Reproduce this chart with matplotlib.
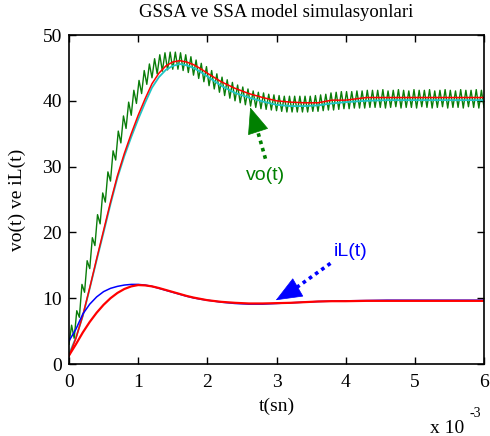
import numpy as np
import matplotlib
matplotlib.use("Agg")
import matplotlib.pyplot as plt

# zaman (ms) - duzgun egriler icin
t_ms = [0, 0.1, 0.2, 0.3, 0.4, 0.5, 0.6, 0.7, 0.8, 0.9, 1.0, 1.1, 1.2, 1.3, 1.4,
        1.5, 1.6, 1.7, 1.8, 1.9, 2.0, 2.2, 2.4, 2.6, 2.8, 3.0, 3.2, 3.4, 3.6,
        3.8, 4.0, 4.3, 4.6, 5.0, 5.5, 6.0]

# vo(t) - GSSA (cyan) ve SSA (kirmizi)
vo_gssa = [1.5, 4.0, 7.3, 11.5, 15.8, 20.0, 24.3, 28.3, 31.6, 34.5, 37.2, 39.7,
           42.0, 43.6, 44.7, 45.3, 45.6, 45.4, 45.0, 44.4, 43.7, 42.3, 41.2,
           40.5, 39.9, 39.4, 39.2, 39.2, 39.3, 39.6, 39.8, 40.0, 40.1, 40.1,
           40.1, 40.1]
vo_ssa = [1.2, 3.9, 7.4, 11.6, 16.0, 20.3, 24.6, 28.6, 32.0, 35.0, 37.8, 40.3,
          42.6, 44.2, 45.3, 45.9, 46.1, 45.9, 45.5, 44.9, 44.2, 42.9, 41.9,
          41.1, 40.5, 40.0, 39.8, 39.7, 39.7, 40.1, 40.1, 40.5, 40.5, 40.5,
          40.5, 40.5]

# iL(t) - GSSA (mavi) ve SSA (kirmizi)
il_gssa = [3.5, 5.3, 7.6, 9.1, 10.2, 11.0, 11.5, 11.8, 12.0, 12.1, 12.1, 12.0,
           11.8, 11.5, 11.2, 10.9, 10.6, 10.3, 10.05, 9.85, 9.7, 9.4, 9.2, 9.1,
           9.1, 9.2, 9.3, 9.4, 9.5, 9.55, 9.6, 9.65, 9.7, 9.7, 9.7, 9.7]
il_ssa = [1.3, 3.0, 4.8, 6.4, 7.8, 9.0, 10.0, 10.8, 11.4, 11.8, 12.0, 11.95,
          11.8, 11.55, 11.25, 10.95, 10.65, 10.35, 10.1, 9.9, 9.7, 9.45, 9.3,
          9.2, 9.2, 9.25, 9.3, 9.4, 9.5, 9.55, 9.55, 9.6, 9.6, 9.6, 9.6, 9.6]

# anahtarlamali model vo(t): dalgalanma tepe / cukur degerleri
vo_switch = [3.0, 5.9, 3.9, 8.1, 7.1, 12.1, 10.9, 15.7, 14.5, 19.2,
             18.0, 22.7, 21.3, 26.0, 24.6, 29.2, 27.8, 32.4, 31.0, 35.4,
             33.6, 37.7, 35.8, 39.8, 37.8, 41.6, 39.6, 43.1, 41.1, 44.6,
             42.5, 45.6, 43.5, 46.4, 44.1, 47.0, 44.5, 47.3, 44.7, 47.4,
             44.8, 47.4, 44.8, 47.3, 44.6, 47.0, 44.3, 46.7, 43.9, 46.2,
             43.4, 45.7, 42.9, 45.2, 42.3, 44.6, 41.8, 44.1, 41.3, 43.6,
             40.8, 43.2, 40.4, 42.8, 40.0, 42.4, 39.7, 42.1, 39.4, 41.8,
             39.2, 41.5, 39.0, 41.3, 38.8, 41.2, 38.7, 41.0, 38.6, 40.9,
             38.5, 40.8, 38.4, 40.7, 38.3, 40.7, 38.3, 40.7, 38.3, 40.7,
             38.3, 40.7, 38.3, 40.7, 38.4, 40.8, 38.4, 40.9, 38.5, 41.0,
             38.6, 41.2, 38.6, 41.3, 38.7, 41.4, 38.8, 41.4, 38.8, 41.4,
             38.9, 41.5, 38.9, 41.5, 38.9, 41.6, 39.0, 41.6, 39.0, 41.6,
             39.0, 41.7, 38.9, 41.5, 39.0, 41.6, 39.1, 41.7, 38.9, 41.6,
             39.0, 41.5, 39.0, 41.7, 38.9, 41.6, 39.1, 41.6, 39.0, 41.7,
             38.9, 41.5, 39.0, 41.6, 39.1, 41.7, 38.9, 41.6, 39.0, 41.5,
             39.0, 41.7, 38.9, 41.6, 39.1, 41.6, 39.0, 41.7, 38.9, 41.6,
             39.0]
t_switch = np.linspace(0, 6, len(vo_switch))

serif = "Liberation Serif"
sans = "Liberation Sans"

fig = plt.figure(figsize=(4.9, 4.36), dpi=100)
ax = fig.add_axes([0.1408, 0.1651, 0.8470, 0.7546])

ax.plot(t_switch, vo_switch, color="#0a7d0a", lw=1.0)
ax.plot(t_ms, vo_gssa, color="#1fc4c4", lw=1.3)
ax.plot(t_ms, vo_ssa, color="red", lw=1.1)
ax.plot(t_ms, il_gssa, color="blue", lw=1.1)
ax.plot(t_ms, il_ssa, color="red", lw=1.6)

ax.set_xlim(0, 6)
ax.set_ylim(0, 50)
ax.set_xticks(range(0, 7))
ax.set_yticks(range(0, 51, 10))
ax.tick_params(direction="in", top=True, right=True, length=5, width=1,
               labelsize=14)
ax.tick_params(axis="x", pad=7)
ax.tick_params(axis="y", pad=5)
for lab in ax.get_xticklabels() + ax.get_yticklabels():
    lab.set_family(serif)
for s in ax.spines.values():
    s.set_linewidth(1.2)

ax.set_title("GSSA ve SSA model simulasyonlari", family=serif, fontsize=13.5, pad=13)
ax.set_xlabel("t(sn)", family=serif, fontsize=14, labelpad=5)
ax.set_ylabel("vo(t) ve iL(t)", family=serif, fontsize=14, labelpad=12)
fig.text(0.878, 0.008, "x 10", family=serif, fontsize=14)
fig.text(0.958, 0.043, "-3", family=serif, fontsize=10)

# oklar: noktali govde + dolu uc
govde = dict(lw=2.6, linestyle=(0, (1, 1.1)), solid_capstyle="butt")
uc = "-|>,head_length=1.1,head_width=0.45"

ax.plot([2.84, 2.70], [31.2, 36.4], color="green", **govde)
ax.annotate("", xy=(2.62, 39.0), xytext=(2.70, 36.4),
            arrowprops=dict(arrowstyle=uc, color="green", lw=0.5,
                            mutation_scale=16, shrinkA=0, shrinkB=0))
ax.text(2.84, 28.6, "vo(t)", color="green", family=sans, fontsize=14,
        ha="center", va="center")

ax.plot([3.78, 3.22], [15.3, 11.1], color="blue", **govde)
ax.annotate("", xy=(2.99, 9.7), xytext=(3.22, 11.1),
            arrowprops=dict(arrowstyle=uc, color="blue", lw=0.5,
                            mutation_scale=16, shrinkA=0, shrinkB=0))
ax.text(4.07, 17.1, "iL(t)", color="blue", family=sans, fontsize=14,
        ha="center", va="center")

fig.savefig("out.png", dpi=100)
